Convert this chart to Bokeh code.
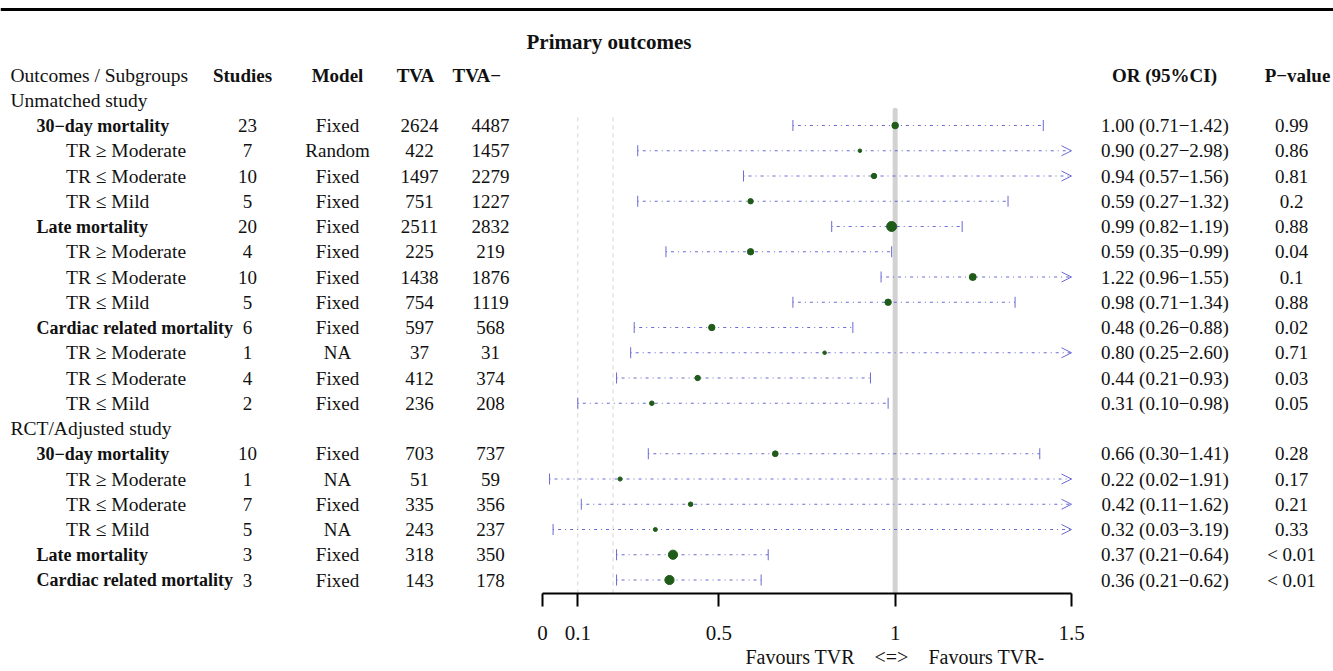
import numpy as np
from bokeh.plotting import figure
from bokeh.models import (ColumnDataSource, Range1d, FixedTicker, CustomJSTickFormatter,
                          Span, Arrow, OpenHead, LinearAxis)
from bokeh.core.properties import value
from bokeh.embed import file_html
from bokeh.resources import INLINE

# ---------------- data ----------------
title = "Primary outcomes"
header_labels = ["Outcomes / Subgroups", "Studies", "Model", "TVA", "TVA\u2212", "OR (95%CI)", "P\u2212value"]

row_labels = ["Unmatched study",
              "30\u2212day mortality", "TR \u2265 Moderate", "TR \u2264 Moderate", "TR \u2264 Mild",
              "Late mortality", "TR \u2265 Moderate", "TR \u2264 Moderate", "TR \u2264 Mild",
              "Cardiac related mortality", "TR \u2265 Moderate", "TR \u2264 Moderate", "TR \u2264 Mild",
              "RCT/Adjusted study",
              "30\u2212day mortality", "TR \u2265 Moderate", "TR \u2264 Moderate", "TR \u2264 Mild",
              "Late mortality", "Cardiac related mortality"]
row_level = [0, 1, 2, 2, 2, 1, 2, 2, 2, 1, 2, 2, 2, 0, 1, 2, 2, 2, 1, 1]

studies = [23, 7, 10, 5, 20, 4, 10, 5, 6, 1, 4, 2, 10, 1, 7, 5, 3, 3]
model = ["Fixed", "Random", "Fixed", "Fixed", "Fixed", "Fixed", "Fixed", "Fixed", "Fixed", "NA",
         "Fixed", "Fixed", "Fixed", "NA", "Fixed", "NA", "Fixed", "Fixed"]
tva = [2624, 422, 1497, 751, 2511, 225, 1438, 754, 597, 37, 412, 236, 703, 51, 335, 243, 318, 143]
tva_minus = [4487, 1457, 2279, 1227, 2832, 219, 1876, 1119, 568, 31, 374, 208, 737, 59, 356, 237, 350, 178]
or_est = [1.00, 0.90, 0.94, 0.59, 0.99, 0.59, 1.22, 0.98, 0.48, 0.80, 0.44, 0.31, 0.66, 0.22, 0.42, 0.32, 0.37, 0.36]
ci_low = [0.71, 0.27, 0.57, 0.27, 0.82, 0.35, 0.96, 0.71, 0.26, 0.25, 0.21, 0.10, 0.30, 0.02, 0.11, 0.03, 0.21, 0.21]
ci_high = [1.42, 2.98, 1.56, 1.32, 1.19, 0.99, 1.55, 1.34, 0.88, 2.60, 0.93, 0.98, 1.41, 1.91, 1.62, 3.19, 0.64, 0.62]
p_value = ["0.99", "0.86", "0.81", "0.2", "0.88", "0.04", "0.1", "0.88", "0.02", "0.71", "0.03", "0.05",
           "0.28", "0.17", "0.21", "0.33", "< 0.01", "< 0.01"]
# relative box weight
weight = [3.3, 1.8, 2.7, 2.7, 5.0, 3.2, 3.5, 3.2, 3.2, 1.8, 2.7, 2.3, 2.9, 2.1, 2.3, 2.0, 4.6, 4.6]

tick_values = [0, 0.1, 0.5, 1, 1.5]
tick_labels = ["0", "0.1", "0.5", "1", "1.5"]
ref_lines = [0.1, 0.2]
null_value = 1
favours_text = "Favours TVR\u2003<=>\u2003Favours TVR-"

# ---------------- layout / style ----------------
W, H = 1333, 671
X0, XS = 542.0, 352.67          # pixel of OR=0, pixels per OR unit
Y_HDR, YS = 74.5, 25.25          # pixel of header row, pixels per row
AXIS_PX = 593                    # pixel of the axis line
FONT = "Liberation Serif"
FS = "19px"
CI_COLOR = "#6a6ad2"
PT_COLOR = "#1f5c1a"
TXT = "#111111"

def dx(px):
    return (px - X0) / XS

def ry(py):
    return (py - Y_HDR) / YS

p = figure(width=W, height=H, output_backend="svg", toolbar_location=None,
           x_range=Range1d(dx(0), dx(W)), y_range=Range1d(ry(AXIS_PX), ry(0)),
           min_border_left=0, min_border_right=0, min_border_top=0, min_border_bottom=H - AXIS_PX,
           y_axis_location=None)
p.grid.visible = False
p.outline_line_color = None
p.background_fill_color = "white"
p.border_fill_color = "white"

# top border line
p.add_layout(Span(location=ry(9), dimension="width", line_color="black", line_width=3))

rows = np.arange(1, len(row_labels) + 1)
data_rows = np.array([r for r, lv in zip(rows, row_level) if lv > 0], dtype=float)
lo = np.array(ci_low)
hi = np.array(ci_high)
est = np.array(or_est)
xmax = tick_values[-1]

# reference lines
for rl in ref_lines:
    p.segment(x0=[rl], y0=[data_rows[0] - 0.32], x1=[rl], y1=[data_rows[-1] + 0.8],
              line_color="#d4d4d4", line_dash="4 4", line_width=1)
p.segment(x0=[null_value], y0=[data_rows[0] - 0.6], x1=[null_value], y1=[data_rows[-1] + 0.8],
          line_color="#d2d2d2", line_width=5, line_cap="round")

# CI lines
ci_src = ColumnDataSource(dict(lo=lo, hi=np.minimum(hi, xmax), y=data_rows))
p.segment(x0="lo", y0="y", x1="hi", y1="y", source=ci_src, line_color=CI_COLOR,
          line_dash="1 4 3 4", line_width=1)
p.scatter(x=lo, y=data_rows, marker="dash", angle=np.pi / 2, size=11, line_color=CI_COLOR, line_width=1)
cap_mask = hi <= xmax
p.scatter(x=hi[cap_mask], y=data_rows[cap_mask], marker="dash", angle=np.pi / 2, size=11,
          line_color=CI_COLOR, line_width=1)
arr_mask = hi > xmax
arr_src = ColumnDataSource(dict(xs=lo[arr_mask], xe=np.full(arr_mask.sum(), xmax), y=data_rows[arr_mask]))
p.add_layout(Arrow(end=OpenHead(size=10, line_color=CI_COLOR, line_width=1),
                   x_start="xs", y_start="y", x_end="xe", y_end="y", source=arr_src, line_alpha=0))

# points
p.scatter(x=est, y=data_rows, size=2 * np.array(weight), fill_color=PT_COLOR, line_color=PT_COLOR)

# ---------------- text ----------------
def txt(xs, ys, texts, align="left", bold=False, size=FS):
    src = ColumnDataSource(dict(x=xs, y=ys, t=texts))
    p.text(x="x", y="y", text="t", source=src, text_font=value(FONT), text_font_size=size,
           text_align=align, text_baseline="middle", text_color=TXT,
           text_font_style="bold" if bold else "normal")

indent_px = {0: 10, 1: 36, 2: 65.5}
lab_x = [dx(indent_px[lv]) for lv in row_level]
norm_i = [i for i, lv in enumerate(row_level) if lv != 1]
bold_i = [i for i, lv in enumerate(row_level) if lv == 1]
txt([lab_x[i] for i in norm_i], [rows[i] for i in norm_i], [row_labels[i] for i in norm_i], size="19.5px")
txt([lab_x[i] for i in bold_i], [rows[i] for i in bold_i], [row_labels[i] for i in bold_i], bold=True, size="18px")

n = len(data_rows)
txt([dx(247)] * n, data_rows, [str(s) for s in studies], align="center")
txt([dx(337)] * n, data_rows, model, align="center")
txt([dx(419)] * n, data_rows, [str(v) for v in tva], align="center")
txt([dx(490)] * n, data_rows, [str(v) for v in tva_minus], align="center")
or_txt = [f"{e:.2f} ({l:.2f}\u2212{h:.2f})" for e, l, h in zip(or_est, ci_low, ci_high)]
txt([dx(1164.5)] * n, data_rows, or_txt, align="center")
txt([dx(1291)] * n, data_rows, p_value, align="center")

# header
txt([dx(10)], [0], [header_labels[0]], size="19.5px")
txt([dx(242), dx(337), dx(415)], [0, 0, 0], header_labels[1:4], align="center", bold=True)
txt([dx(452)], [0], [header_labels[4]], bold=True)
txt([dx(1164), dx(1297)], [0, 0], header_labels[5:7], align="center", bold=True)

# title
txt([dx(526)], [ry(41)], [title], bold=True, size="21px")

# ---------------- axis ----------------
ax = p.xaxis[0]
ax.ticker = FixedTicker(ticks=tick_values)
ax.formatter = CustomJSTickFormatter(args=dict(vals=tick_values, labs=tick_labels),
                                     code="const i = vals.indexOf(tick); return i >= 0 ? labs[i] : String(tick);")
ax.bounds = (tick_values[0], tick_values[-1])
ax.axis_line_width = 2
ax.axis_line_color = "black"
ax.major_tick_line_width = 2
ax.major_tick_line_color = "black"
ax.major_tick_out = 13
ax.major_tick_in = 0
ax.minor_tick_line_color = None
ax.major_label_text_font = FONT
ax.major_label_text_font_size = "21px"
ax.major_label_text_color = TXT
ax.major_label_standoff = 19

# second axis carrying the "Favours" caption centred on the null value
ax2 = LinearAxis(ticker=FixedTicker(ticks=[null_value]),
                 formatter=CustomJSTickFormatter(args=dict(lab=favours_text), code="return lab;"),
                 axis_line_color=None, major_tick_line_color=None, minor_tick_line_color=None,
                 major_tick_out=0, major_tick_in=0, major_label_standoff=3,
                 major_label_text_font=FONT, major_label_text_font_size="20px",
                 major_label_text_color=TXT)
p.add_layout(ax2, "below")

open("out.html", "w").write(file_html(p, INLINE))
